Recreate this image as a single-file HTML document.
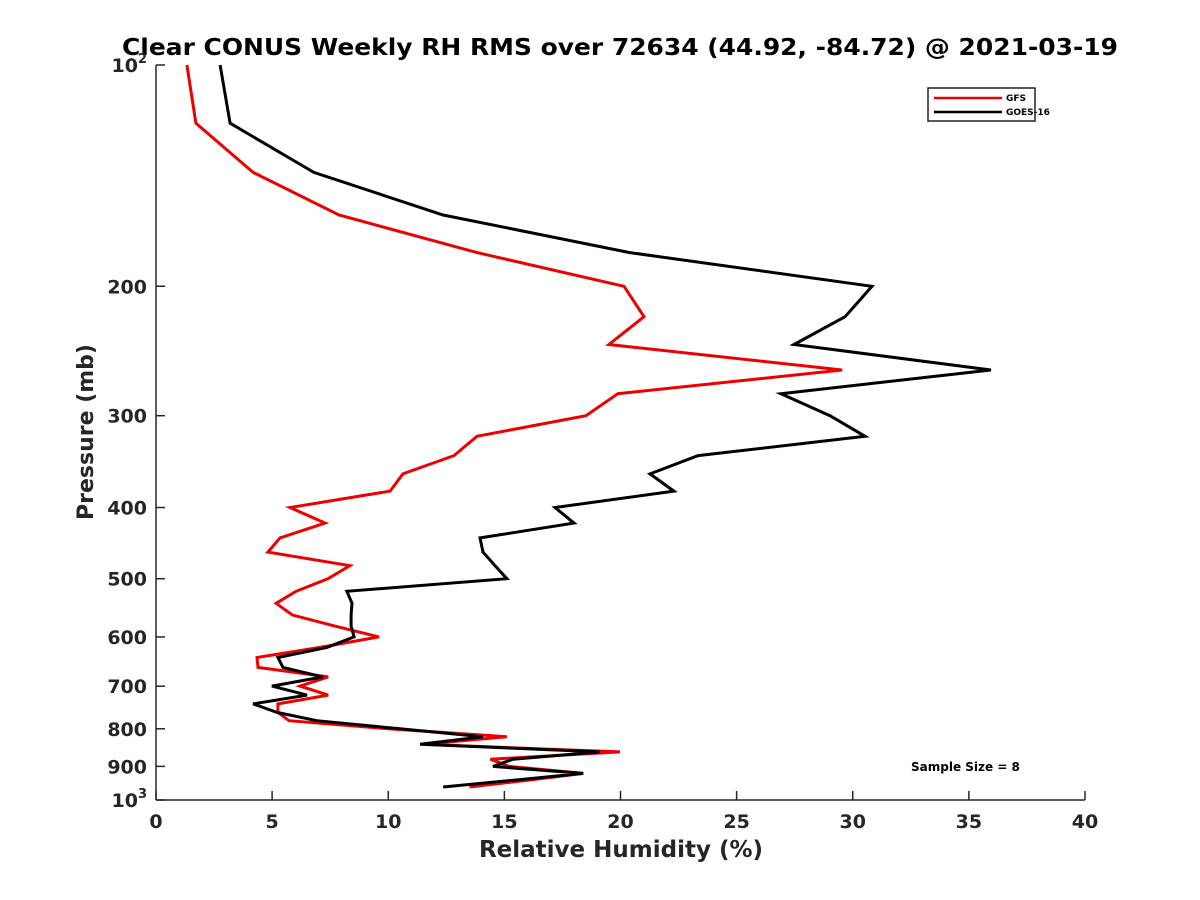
<!DOCTYPE html>
<html><head><meta charset="utf-8"><style>
body{margin:0;background:#fff}
svg{display:block;font-family:"DejaVu Sans","Liberation Sans",sans-serif}
</style></head><body>
<svg id="c" width="1200" height="900">
<rect width="1200" height="900" fill="#fff"/>
<text x="620" y="55" text-anchor="middle" font-size="23" font-weight="bold" fill="#000" textLength="996" lengthAdjust="spacingAndGlyphs">Clear CONUS Weekly RH RMS over 72634 (44.92, -84.72) @ 2021-03-19</text>
<g id="axes"></g>
<g id="series"></g>
<g>
<rect x="928" y="88" width="107" height="33" fill="#fff" stroke="#222" stroke-width="1.5"/>
<line x1="934" y1="98" x2="1002" y2="98" stroke="#e00" stroke-width="2.5"/>
<text x="1006" y="101" font-size="9" font-weight="bold">GFS</text>
<line x1="934" y1="112" x2="1002" y2="112" stroke="#000" stroke-width="2.5"/>
<text x="1006" y="115" font-size="9" font-weight="bold">GOES-16</text>
</g>
<text x="911" y="771" font-size="12" font-weight="bold">Sample Size = 8</text>
<text x="621" y="857" text-anchor="middle" font-size="23" font-weight="bold" fill="#262626">Relative Humidity (%)</text>
<text transform="translate(93,432) rotate(-90)" text-anchor="middle" font-size="22" font-weight="bold" fill="#262626">Pressure (mb)</text>
</svg>
<script>
const pressures=[100,120,140,160,180,200,220,240,260,280,300,320,340,360,380,400,420,440,460,480,500,520,540,560,580,600,620,640,660,680,700,720,740,760,780,800,820,840,860,880,900,920,940,960];
const gfsRH=[1.33,1.72,4.18,7.88,13.82,20.15,21.01,19.5,29.54,19.89,18.51,13.82,12.83,10.63,10.08,5.77,7.28,5.34,4.82,8.35,7.41,6.03,5.17,5.86,7.7,9.6,7.06,4.35,4.39,7.41,6.2,7.41,5.25,5.25,5.73,10,15.11,11.5,19.98,14.4,15.2,18.4,16,13.5];
const goesRH=[2.76,3.19,6.8,12.36,20.4,30.83,29.67,27.47,35.95,26.91,29.02,30.53,23.34,21.27,22.3,17.18,18.0,13.95,14.08,14.6,15.11,8.22,8.44,8.4,8.4,8.53,7.36,5.25,5.47,7.19,4.99,6.5,4.18,5.21,6.93,10.5,14.08,11.37,19.12,15.37,14.51,18.39,15.4,12.36];
const xTicks=[0,5,10,15,20,25,30,35,40];
const yTicks=[200,300,400,500,600,700,800,900];
const NS="http://www.w3.org/2000/svg";
const X0=156,X1=1085,Y0=65,Y1=800;
const xs=v=>X0+(v/40)*(X1-X0);
const ys=p=>Y0+(Math.log10(p)-2)*(Y1-Y0);
function mk(t,a,parent){const e=document.createElementNS(NS,t);for(const k in a)e.setAttribute(k,a[k]);parent.appendChild(e);return e;}
const ax=document.getElementById('axes');
let l=mk('line',{x1:X0,y1:Y0,x2:X0,y2:Y1,stroke:'#262626','stroke-width':1.5},ax);


l=mk('line',{x1:X0,y1:Y1,x2:X1,y2:Y1,stroke:'#262626','stroke-width':1.5},ax);


xTicks.forEach(v=>{
 const x=xs(v);
 const t=mk('line',{x1:x,y1:Y1,x2:x,y2:Y1-9,stroke:'#262626','stroke-width':1.5},ax);
 
 
 const tx=mk('text',{x:x,y:Y1+28,'text-anchor':'middle','font-size':19,'font-weight':'bold',fill:'#262626'},ax);
 tx.textContent=v;
 
 
});
function ytick(p,label,sup){
 const y=ys(p);
 const t=mk('line',{x1:X0,y1:y,x2:X0+9,y2:y,stroke:'#262626','stroke-width':1.5},ax);
 
 
 const tx=mk('text',{x:X0-9,y:y+7,'text-anchor':'end','font-size':19,'font-weight':'bold',fill:'#262626'},ax);
 
 
 tx.textContent=label;
 if(sup){const s=mk('tspan',{dy:-9,'font-size':13},tx);s.textContent=sup;}
}
ytick(100,'10','2');
yTicks.forEach(p=>ytick(p,String(p)));
ytick(1000,'10','3');
const sg=document.getElementById('series');
function line(vals,col,name){
 const d=vals.map((v,i)=>(i?'L':'M')+xs(v).toFixed(1)+','+ys(pressures[i]).toFixed(1)).join(' ');
 const p=mk('path',{d:d,fill:'none',stroke:col,'stroke-width':3,'stroke-linejoin':'miter'},sg);
 
 
}
line(gfsRH,'#e00','gfs-line');
line(goesRH,'#000','goes16-line');
</script>
</body></html>
